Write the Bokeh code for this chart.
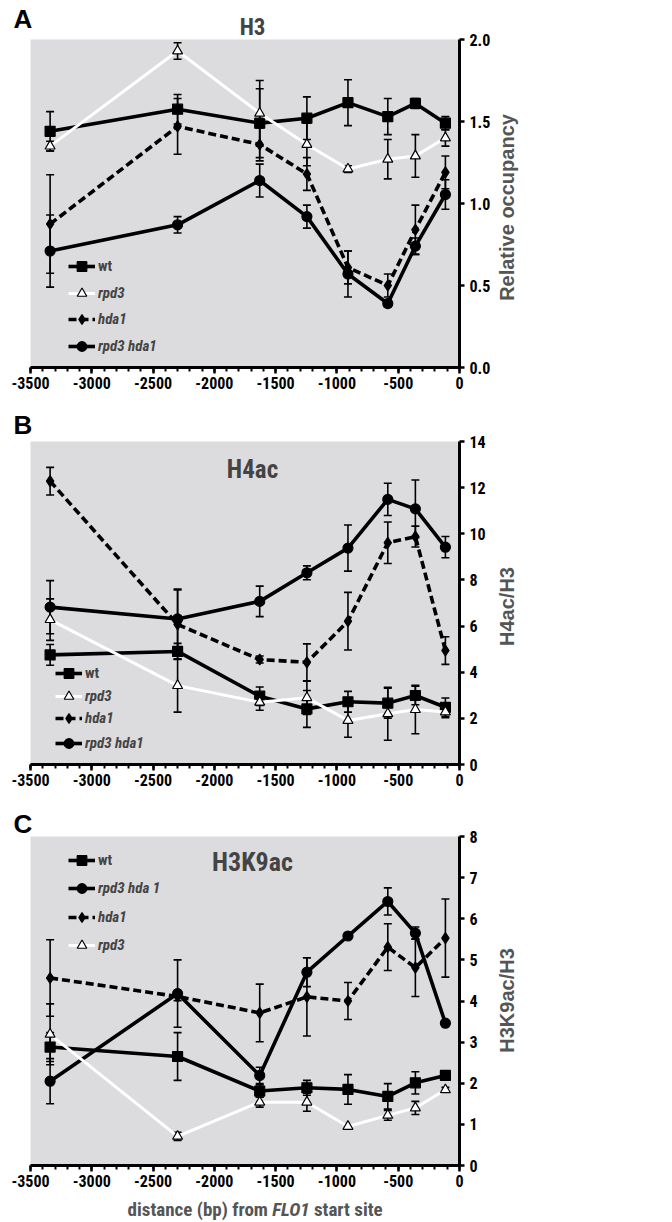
import math
from bokeh.plotting import figure
from bokeh.models import (Range1d, SingleIntervalTicker, Whisker, TeeHead, ColumnDataSource,
                          Legend, LegendItem, Label, NumeralTickFormatter, PrintfTickFormatter,
                          BoxAnnotation)
from bokeh.core.properties import value
from bokeh.layouts import column, row
from bokeh.embed import file_html
from bokeh.resources import INLINE

# ---------------- data ----------------
X = [-3340, -2300, -1630, -1245, -910, -585, -360, -115]

# Panel A: H3 relative occupancy
h3_wt = [1.44, 1.575, 1.49, 1.52, 1.615, 1.53, 1.61, 1.49]
h3_wt_err = [0.12, 0.09, 0.21, 0.13, 0.14, 0.11, 0.03, 0.04]
h3_rpd3 = [1.35, 1.93, 1.55, 1.36, 1.21, 1.27, 1.29, 1.40]
h3_rpd3_err = [0.03, 0.05, 0.20, 0.13, 0.02, 0.12, 0.13, 0.05]
h3_hda1 = [0.875, 1.47, 1.36, 1.18, 0.61, 0.50, 0.84, 1.19]
h3_hda1_err = [0.30, 0.17, 0.10, 0.10, 0.10, 0.07, 0.15, 0.10]
h3_rh = [0.71, 0.87, 1.14, 0.92, 0.57, 0.39, 0.74, 1.055]
h3_rh_err = [0.22, 0.05, 0.10, 0.07, 0.14, 0.02, 0.05, 0.09]

# Panel B: H4ac/H3
h4_wt = [4.75, 4.90, 2.96, 2.41, 2.72, 2.66, 2.99, 2.48]
h4_wt_err = [0.45, 0.35, 0.40, 0.80, 0.45, 0.65, 0.40, 0.40]
h4_rpd3 = [6.28, 3.42, 2.70, 2.89, 1.91, 2.20, 2.38, 2.28]
h4_rpd3_err = [0.90, 1.15, 0.35, 0.72, 0.73, 1.15, 1.05, 0.25]
h4_hda1 = [12.28, 6.07, 4.55, 4.43, 6.21, 9.61, 9.88, 4.94]
h4_hda1_err = [0.60, 1.50, 0.15, 0.80, 1.25, 0.90, 0.45, 0.60]
h4_rh = [6.82, 6.31, 7.07, 8.31, 9.38, 11.49, 11.08, 9.42]
h4_rh_err = [1.15, 1.30, 0.66, 0.30, 1.00, 0.70, 1.25, 0.46]

# Panel C: H3K9ac/H3
k9_wt = [2.88, 2.65, 1.81, 1.89, 1.85, 1.68, 2.01, 2.19]
k9_wt_err = [0.35, 0.58, 0.15, 0.18, 0.36, 0.31, 0.27, 0.05]
k9_rpd3 = [3.19, 0.71, 1.54, 1.54, 0.95, 1.22, 1.40, 1.84]
k9_rpd3_err = [0.74, 0.10, 0.12, 0.22, 0.03, 0.12, 0.16, 0.06]
k9_hda1 = [4.56, 4.11, 3.71, 4.10, 4.00, 5.31, 4.81, 5.53]
k9_hda1_err = [0.93, 0.10, 0.70, 0.95, 0.45, 0.57, 0.70, 0.95]
k9_rh = [2.05, 4.18, 2.19, 4.70, 5.58, 6.42, 5.65, 3.46]
k9_rh_err = [0.55, 0.82, 0.20, 0.35, 0.05, 0.33, 0.15, 0.04]

X_MIN, X_MAX = -3500, 0
X_TICK_STEP = 500

COND = "Roboto Condensed, DejaVu Sans Condensed, Liberation Sans"
SANS = "Liberation Sans"
BG = "#dcdcde"

# layout (pixels)
LEFT_PAD = 30          # white space left of the grey area (inside frame)
GREY_W = 429           # width of the grey plotting area
RIGHT_BORDER = 36      # room for the right tick labels
PLOT_W = LEFT_PAD + GREY_W + RIGHT_BORDER
SIDE_W = 672 - PLOT_W
PX_X = (X_MAX - X_MIN) / GREY_W   # data units per pixel along x

STYLES = {
    "wt":   dict(color="black", dash="solid", marker="square", size=10, fill="black", lw=3.6),
    "rpd3": dict(color="white", dash="solid", marker="triangle", size=10, fill="white", lw=3.0),
    "hda1": dict(color="black", dash="8 4", marker="diamond", size=11, fill="black", lw=3.6),
    "rh":   dict(color="black", dash="solid", marker="circle", size=10, fill="black", lw=3.6),
}


def bare_figure(w, h, xr, yr, right=0, bottom=0):
    f = figure(width=w, height=h, x_range=xr, y_range=yr, title=None,
               x_axis_location=None, y_axis_location=None, output_backend="svg",
               toolbar_location=None, min_border_left=0, min_border_right=right,
               min_border_top=0, min_border_bottom=bottom)
    f.outline_line_color = None
    f.grid.visible = False
    f.background_fill_color = None
    f.border_fill_color = None
    return f


def make_panel(height, fig_top, top_pad, grey_h, ymax, ystep, yfmt, series, legend_entries,
               legend_rows, legend_x, letter, letter_cy, title, title_cy, title_size):
    bottom = height - top_pad - grey_h
    x_lo = X_MIN - LEFT_PAD * PX_X
    y_hi = ymax + top_pad * ymax / grey_h
    p = figure(width=PLOT_W, height=height, x_range=Range1d(x_lo, X_MAX),
               y_range=Range1d(0, y_hi), title=None,
               y_axis_location="right", output_backend="svg", toolbar_location=None,
               min_border_left=0, min_border_right=RIGHT_BORDER, min_border_top=0,
               min_border_bottom=bottom)
    p.background_fill_color = "white"
    p.border_fill_color = "white"
    p.outline_line_color = None
    p.grid.visible = False

    p.add_layout(BoxAnnotation(left=X_MIN, right=X_MAX, bottom=0, top=ymax, fill_color=BG,
                               fill_alpha=1.0, line_color=None, level="underlay"))

    xa = p.xaxis[0]
    xa.bounds = (X_MIN, X_MAX)
    xa.ticker = SingleIntervalTicker(interval=X_TICK_STEP, num_minor_ticks=5)
    xa.formatter = PrintfTickFormatter(format="%d")
    xa.axis_line_width = 3
    xa.major_tick_line_width = 2.5
    xa.minor_tick_line_width = 2
    xa.major_tick_out = 6
    xa.major_tick_in = 0
    xa.minor_tick_out = 4
    xa.minor_tick_in = 0
    xa.major_label_text_font = COND
    xa.major_label_text_font_style = "bold"
    xa.major_label_text_font_size = "16px"
    xa.major_label_text_color = "black"
    xa.major_label_standoff = 3

    ya = p.yaxis[0]
    ya.bounds = (0, ymax)
    ya.ticker = SingleIntervalTicker(interval=ystep, num_minor_ticks=0)
    ya.formatter = NumeralTickFormatter(format=yfmt)
    ya.axis_line_width = 3
    ya.major_tick_line_width = 2.5
    ya.major_tick_out = 5
    ya.major_tick_in = 0
    ya.minor_tick_out = 0
    ya.minor_tick_in = 0
    ya.major_label_text_font = COND
    ya.major_label_text_font_style = "bold"
    ya.major_label_text_font_size = "16px"
    ya.major_label_text_color = "black"
    ya.major_label_standoff = 5

    renderers = {}
    order = ["wt", "hda1", "rh", "rpd3"]
    for key in order:
        vals, errs = series[key]
        src = ColumnDataSource(dict(x=X, y=vals,
                                    upper=[v + e for v, e in zip(vals, errs)],
                                    lower=[v - e for v, e in zip(vals, errs)]))
        w = Whisker(source=src, base="x", upper="upper", lower="lower",
                    line_color="black", line_width=1.6,
                    upper_head=TeeHead(size=8, line_width=1.6, line_color="black"),
                    lower_head=TeeHead(size=8, line_width=1.6, line_color="black"),
                    level="underlay")
        p.add_layout(w)
    for key in order:
        vals, errs = series[key]
        st = STYLES[key]
        src = ColumnDataSource(dict(x=X, y=vals))
        lr = p.line("x", "y", source=src, line_color=st["color"], line_width=st["lw"],
                    line_dash=st["dash"])
        sr = p.scatter("x", "y", source=src, marker=st["marker"], size=st["size"],
                       fill_color=st["fill"], line_color="black", line_width=1.2)
        renderers[key] = (lr, sr)

    frame_bottom = fig_top + top_pad + grey_h
    gh = 24
    for k, (key, label) in enumerate(legend_entries):
        cy = legend_rows[k]
        vy = frame_bottom - cy - gh / 2
        italic = key != "wt"
        leg = Legend(items=[LegendItem(label=value(label), renderers=list(renderers[key]))],
                     location=(legend_x, vy), padding=0, margin=0, spacing=0,
                     glyph_width=27, glyph_height=gh, label_height=gh, label_standoff=3,
                     label_text_font=COND,
                     label_text_font_style="bold italic" if italic else "bold",
                     label_text_font_size="15px", label_text_baseline="middle",
                     border_line_color=None, background_fill_alpha=0)
        p.add_layout(leg)

    def img_y(y_img):
        # page pixel row -> data y
        return ymax + (fig_top + top_pad - y_img) * ymax / grey_h

    p.add_layout(Label(x=X_MIN - 17 * PX_X, y=img_y(letter_cy), text=letter,
                       text_font=SANS, text_font_style="bold", text_font_size="26px",
                       text_align="left", text_baseline="middle", text_color="black"))
    p.add_layout(Label(x=X_MIN + (252 - LEFT_PAD) * PX_X, y=img_y(title_cy), text=title,
                       text_align="center", text_font=COND, text_font_style="bold",
                       text_font_size=title_size, text_baseline="middle",
                       text_color="#444444"))
    return p


def side_label(height, bottom, text, center_from_top):
    s = bare_figure(SIDE_W, height, Range1d(0, SIDE_W), Range1d(bottom, height),
                    bottom=bottom)
    s.add_layout(Label(x=11, y=height - center_from_top, text=text, angle=math.pi / 2,
                       text_align="center", text_baseline="middle", text_font=SANS,
                       text_font_style="bold", text_font_size="20px", text_color="#555555"))
    return s


pA = make_panel(408, 0, 39, 328, 2.0, 0.5, "0.0",
                {"wt": (h3_wt, h3_wt_err), "rpd3": (h3_rpd3, h3_rpd3_err),
                 "hda1": (h3_hda1, h3_hda1_err), "rh": (h3_rh, h3_rh_err)},
                [("wt", "wt"), ("rpd3", "rpd3"), ("hda1", "hda1"), ("rh", "rpd3 hda1")],
                [266, 292.7, 319.3, 345.7], 68, "A", 18, "H3", 27, "23px")
sA = side_label(408, 41, "Relative occupancy", 207)

pB = make_panel(400, 408, 33, 323, 14, 2, "0",
                {"wt": (h4_wt, h4_wt_err), "rpd3": (h4_rpd3, h4_rpd3_err),
                 "hda1": (h4_hda1, h4_hda1_err), "rh": (h4_rh, h4_rh_err)},
                [("wt", "wt"), ("rpd3", "rpd3"), ("hda1", "hda1"), ("rh", "rpd3 hda1")],
                [672.7, 696, 718.3, 742.7], 55, "B", 424.5, "H4ac", 468.5, "25px")
sB = side_label(400, 44, "H4ac/H3", 198)

pC = make_panel(387, 808, 28, 329, 8, 1, "0",
                {"wt": (k9_wt, k9_wt_err), "rpd3": (k9_rpd3, k9_rpd3_err),
                 "hda1": (k9_hda1, k9_hda1_err), "rh": (k9_rh, k9_rh_err)},
                [("wt", "wt"), ("rh", "rpd3 hda 1"), ("hda1", "hda1"), ("rpd3", "rpd3")],
                [860, 888.3, 917.3, 945], 68, "C", 823, "H3K9ac", 861, "26px")
sC = side_label(387, 30, "H3K9ac/H3", 192)

# x-axis title strip under panel C (same x mapping as the plots)
x_lo = X_MIN - LEFT_PAD * PX_X
pX = bare_figure(PLOT_W, 27, Range1d(x_lo, X_MAX), Range1d(0, 27), right=RIGHT_BORDER)
common = dict(x=-1375, y=13, text_font=COND, text_font_size="19px",
              text_baseline="middle", text_color="#555555")
pX.add_layout(Label(text="distance (bp) from", text_align="right", x_offset=-23,
                    text_font_style="bold", **common))
pX.add_layout(Label(text="FLO1", text_align="center", x_offset=0,
                    text_font_style="bold italic", **common))
pX.add_layout(Label(text="start site", text_align="left", x_offset=23,
                    text_font_style="bold", **common))

layout = column(row(pA, sA), row(pB, sB), row(pC, sC), pX)
open("out.html", "w").write(file_html(layout, INLINE))
